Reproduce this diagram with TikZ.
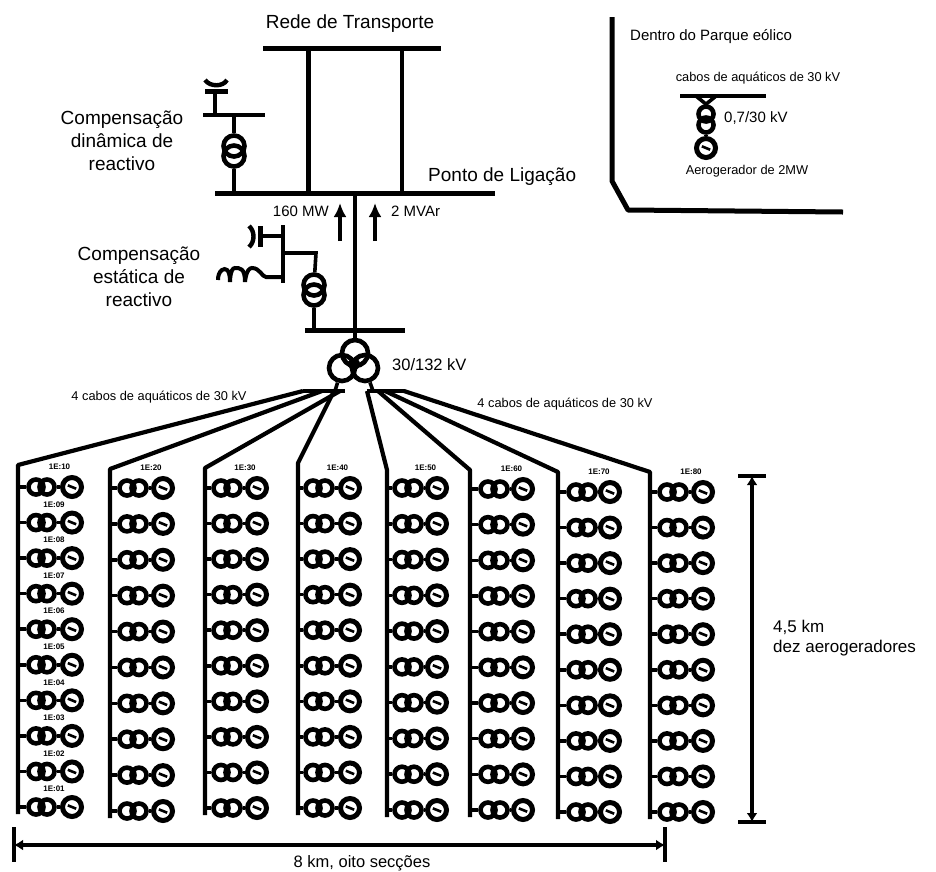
\documentclass[tikz,border=0pt]{standalone}
\usepackage{fontspec}
\setmainfont{Liberation Sans}
\usetikzlibrary{arrows.meta}
\tikzset{
  wire/.style={line width=3.6pt,line cap=butt},
  busbar/.style={line width=5pt},
  feeder/.style={line width=4.2pt,line join=round},
  ring/.style={circle,draw,line width=4.6pt,minimum size=#1,inner sep=0pt},
  unit ring/.style={circle,draw,line width=4.6pt,minimum size=15pt,inner sep=0pt},
  gen/.style={circle,draw,line width=5pt,minimum size=19pt,inner sep=0pt},
  lab/.style={inner sep=0pt,align=center,font=\fontsize{19}{23}\selectfont},
  small/.style={inner sep=0pt,font=\fontsize{15}{16}\selectfont},
  tiny/.style={inner sep=0pt,font=\fontsize{12.8}{14}\selectfont},
  unitlab/.style={inner sep=0pt,font=\bfseries\fontsize{8}{9}\selectfont},
  dim/.style={line width=3.6pt,{Latex[length=9pt,width=11pt]}-{Latex[length=9pt,width=11pt]}},
  flow/.style={line width=3.6pt,-{Latex[length=14pt,width=13pt]}},
}
\newcommand{\gensign}{\rotatebox{-22}{\rule{9pt}{2.6pt}}}
\begin{document}
\begin{tikzpicture}[x=1pt,y=-1pt]
\useasboundingbox (0,0) rectangle (936,871);
% ---- upper network
\coordinate (tl) at (263,48); \coordinate (tr) at (441,48);
\coordinate (t1) at (308,48); \coordinate (t2) at (402,48);
\coordinate (ml) at (215,193); \coordinate (mr) at (495,193);
\coordinate (m1) at (308,193); \coordinate (m2) at (402,193);
\coordinate (m3) at (355,193); \coordinate (m4) at (234,193);
\draw[busbar] (tl) -- (tr);
\draw[busbar] (ml) -- (mr);
\draw[line width=5pt] (t1) -- (m1);
\draw[line width=4pt] (t2) -- (m2);
\node[lab] (rede) at (350,24) {Rede de Transporte};
\node[lab,anchor=west] (ponto) at (428,177) {Ponto de Ligação};
% dynamic compensation
\coordinate (dl) at (203,115); \coordinate (dr) at (265,115);
\coordinate (d1) at (234,115); \coordinate (d2) at (215,115);
\coordinate (d3) at (215,91);
\coordinate (dp1) at (205,91); \coordinate (dp2) at (228,91);
\draw[line width=4.4pt] (dl) -- (dr);
\node[ring=21pt] (dta) at (234,146) {};
\node[ring=21pt] (dtb) at (234,156) {};
\draw[wire] (d1) -- (dta);
\draw[wire] (dtb) -- (m4);
\draw[wire] (d2) -- (d3);
\draw[line width=5pt] (dp1) -- (dp2);
\draw[line width=4.4pt] (205,80) .. controls (210,87) and (223,87) .. (227,80);
\node[lab] (dyn) at (122,141) {Compensação\\dinâmica de\\reactivo};
% flows
\coordinate (fa) at (340,241); \coordinate (fat) at (340,203);
\coordinate (fb) at (375,241); \coordinate (fbt) at (375,203);
\draw[flow] (fa) -- (fat);
\draw[flow] (fb) -- (fbt);
\node[small,anchor=east] (mw) at (329,211) {160 MW};
\node[small,anchor=west] (mvar) at (391,211) {2 MVAr};
% static compensation
\coordinate (sa) at (283,225); \coordinate (sb) at (283,283);
\coordinate (sc) at (283,236); \coordinate (scp) at (258,236);
\coordinate (sd) at (283,253); \coordinate (se) at (316,253);
\coordinate (sf) at (283,277); \coordinate (sg) at (266,277);
\coordinate (sh) at (314,330);
\draw[line width=4.4pt] (sa) -- (sb);
\draw[wire] (sc) -- (scp);
\draw[line width=5pt] (260,226) -- (260,247);
\draw[line width=4.4pt] (249,226) .. controls (255,231) and (255,242) .. (249,247);
\node[ring=21pt] (sta) at (314,285) {};
\node[ring=21pt] (stb) at (314,295) {};
\draw[wire,line join=miter] (sd) -- (se) -- (sta);
\draw[wire] (stb) -- (sh);
\draw[line width=4pt] (sf) -- (sg) .. controls (262,277) and (260,268) .. (252,268)
  .. controls (246,268) and (245,282) .. (245,282)
  (245,282) .. controls (245,268) and (240,268) .. (235,268)
  .. controls (230,268) and (230,282) .. (230,282)
  (230,282) .. controls (230,268) and (225,268) .. (222,270)
  .. controls (219,272) and (218,276) .. (218,280);
\node[lab] (sta lab) at (139,277) {Compensação\\estática de\\reactivo};
% main line and transformer
\coordinate (bl) at (305,330); \coordinate (br) at (405,330);
\coordinate (bc) at (355,330);
\draw[line width=4.6pt] (m3) -- (bc);
\draw[busbar] (bl) -- (br);
\node[ring=26pt] (ma) at (355,353) {};
\node[ring=26pt] (mb) at (342,368) {};
\node[ring=26pt] (mc) at (365,368) {};
\fill (354,364) circle (6pt);
\draw[wire] (bc) -- (ma);
\node[lab,anchor=west,font=\fontsize{16.5}{18}\selectfont] (kv) at (392,365) {30/132 kV};
% feeder bars under the transformer
\coordinate (fl) at (303,391); \coordinate (flr) at (345,391);
\coordinate (frl) at (367,391); \coordinate (fr) at (405,391);
\draw[line width=4.4pt] (fl) -- (flr);
\draw[line width=4.4pt] (frl) -- (fr);
\draw[wire] (mb) -- (335,391);
\draw[wire] (mc) -- (373,391);
\node[tiny] (cabl) at (159,397) {4 cabos de aquáticos de 30 kV};
\node[tiny] (cabr) at (565,404) {4 cabos de aquáticos de 30 kV};
% feeders
\coordinate (f1) at (303,391); \coordinate (f2) at (322,391);
\coordinate (f3) at (340,391); \coordinate (f4) at (334,391);
\coordinate (f5) at (367,391); \coordinate (f6) at (378,391);
\coordinate (f7) at (385,391); \coordinate (f8) at (404,391);
% ---- columns
\foreach \c/\bx/\ta/\tb/\gx/\ya/\yb/\tp/\lbl in {
  1/18/36/47/72/487/807/465/1E:10,
  2/110/127/139/163/488/811/469/1E:20,
  3/205/221/233/257/488/808/468/1E:30,
  4/298/313/325/350/488/808/463/1E:40,
  5/387/402/414/437/488/810/470/1E:50,
  6/470/488/500/523/489/810/470/1E:60,
  7/558/576/588/610/492/812/472/1E:70,
  8/650/667/679/703/492/812/472/1E:80}{
  \coordinate (top\c) at (\bx,\tp);
  \coordinate (end\c) at (\bx,\yb+7);
  \draw[feeder] (f\c) -- (top\c) -- (end\c);
  \pgfmathsetmacro{\stepy}{(\yb-\ya)/9}
  \foreach \r in {1,...,10}{
    \pgfmathsetmacro{\yy}{\ya+(\r-1)*\stepy}
    \coordinate (b\c-\r) at (\bx,\yy);
    \node[unit ring] (ta\c-\r) at (\ta,\yy) {};
    \node[unit ring] (tb\c-\r) at (\tb,\yy) {};
    \node[gen] (g\c-\r) at (\gx,\yy) {\gensign};
    \draw[wire] (b\c-\r) -- (ta\c-\r);
    \draw[wire] (tb\c-\r) -- (g\c-\r);
  }
  \pgfmathsetmacro{\lx}{(\tb+\gx)/2}
  \node[unitlab] (lb\c) at (\lx,\ya-20) {\lbl};
}
% labels of the first column
\foreach \r/\t in {2/1E:09,3/1E:08,4/1E:07,5/1E:06,6/1E:05,7/1E:04,8/1E:03,9/1E:02,10/1E:01}{
  \path (ta1-\r) ++(18,-18) node[unitlab] (ll\r) {\t};
}
% ---- dimensions
\coordinate (va) at (752,476); \coordinate (vb) at (752,822);
\draw[dim] (va) -- (vb);
\draw[line width=4pt] (738,476) -- (766,476);
\draw[line width=4pt] (738,822) -- (766,822);
\node[lab,anchor=west,align=left,font=\fontsize{17}{20}\selectfont] (dz) at (773,638) {4,5 km\\dez aerogeradores};
\coordinate (ha) at (14,845); \coordinate (hb) at (665,845);
\draw[dim] (ha) -- (hb);
\draw[line width=4.4pt] (14,827) -- (14,862);
\draw[line width=4.4pt] (665,827) -- (665,862);
\node[lab,font=\fontsize{16.5}{18}\selectfont] (ok) at (362,863) {8 km, oito secções};
% ---- inset
\coordinate (pa) at (612,17); \coordinate (pb) at (612,181);
\coordinate (pc) at (628,210); \coordinate (pd) at (843,212);
\draw[line width=5pt,line join=round] (pa) -- (pb) -- (pc) -- (pd);
\node[small,anchor=west] (dp) at (630,37) {Dentro do Parque eólico};
\node[tiny] (cb) at (758,78) {cabos de aquáticos de 30 kV};
\coordinate (il) at (680,96); \coordinate (ir) at (766,96);
\draw[line width=4.4pt] (il) -- (ir);
\node[unit ring] (ita) at (706,114) {};
\node[unit ring] (itb) at (706,125) {};
\node[gen] (ig) at (706,148) {\gensign};
\coordinate (iv1) at (696,96); \coordinate (iv2) at (716,96);
\draw[wire] (iv1) -- (ita.north) -- (iv2);
\draw[wire] (itb) -- (ig);
\node[small,anchor=west] (ikv) at (724,118) {0,7/30 kV};
\node[tiny] (iae) at (747,171) {Aerogerador de 2MW};
\end{tikzpicture}
\end{document}
